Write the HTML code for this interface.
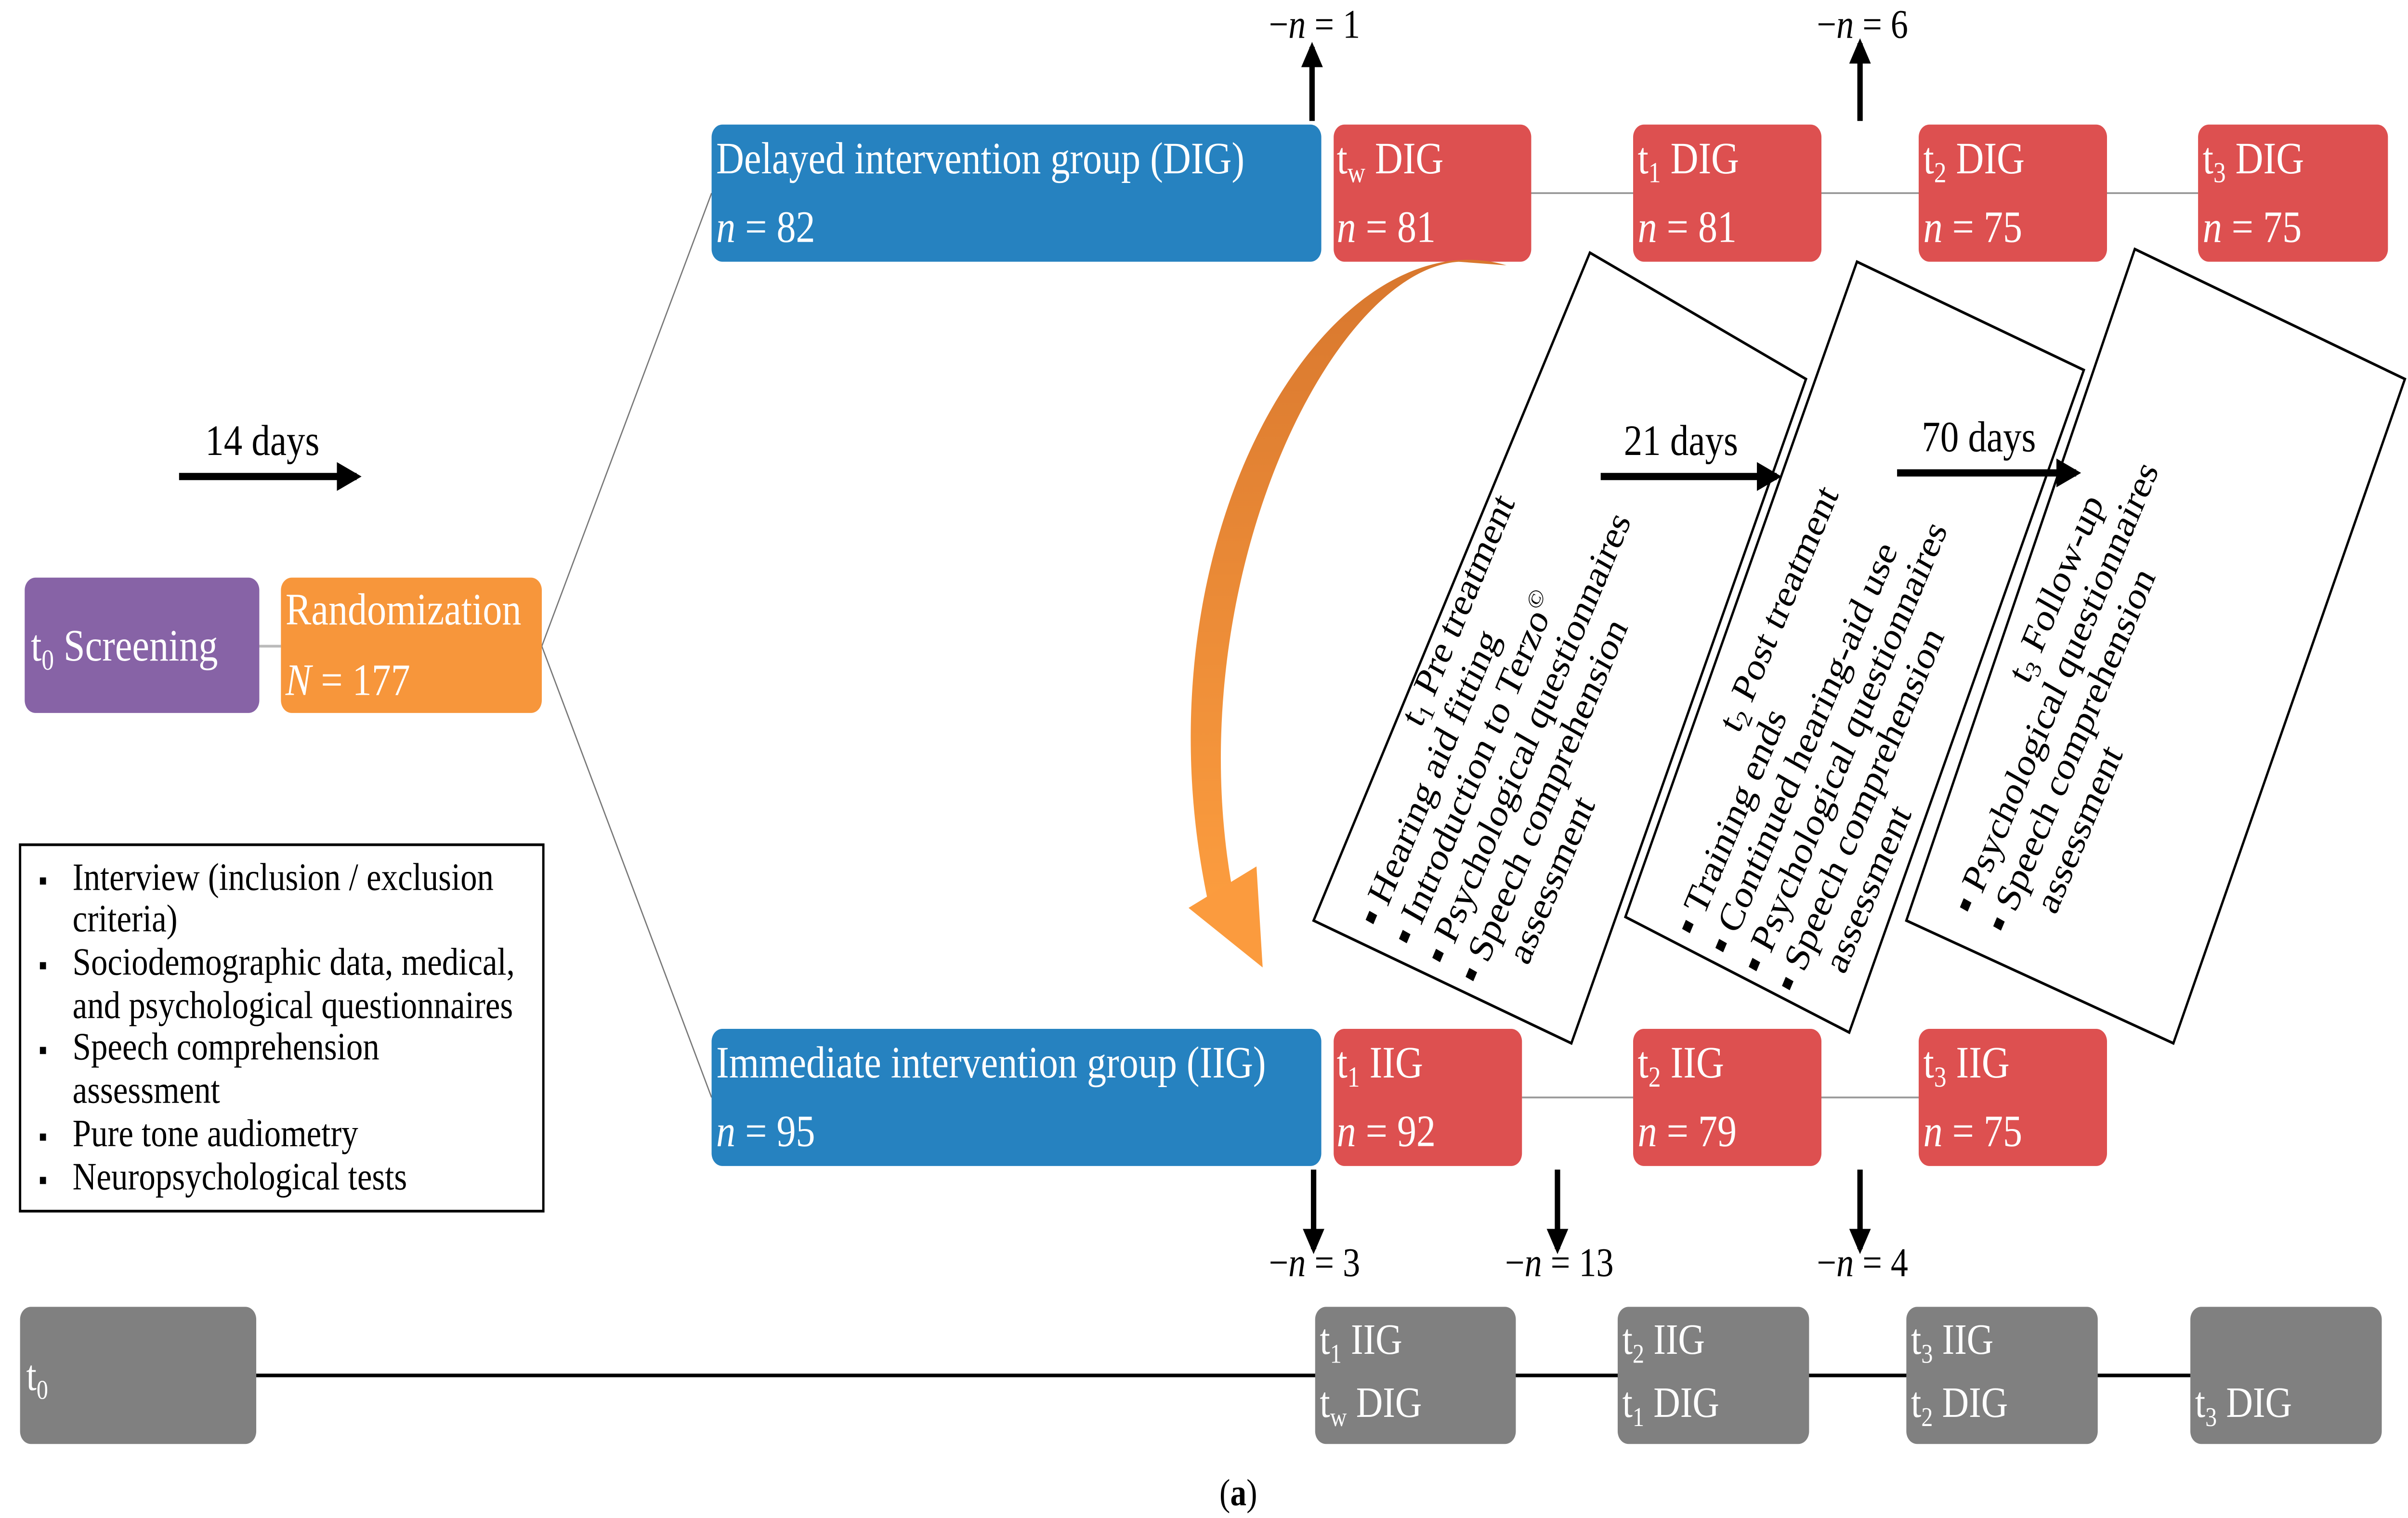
<!DOCTYPE html>
<html><head><meta charset="utf-8"><style>html,body{margin:0;padding:0;background:#fff;overflow:hidden;}svg{display:block;width:100vw;height:100vh;}</style></head>
<body>
<svg viewBox="0 0 1560 841" preserveAspectRatio="none" xmlns="http://www.w3.org/2000/svg" font-family="'Liberation Serif', serif">
<defs>
<linearGradient id="og" x1="0" y1="0" x2="0" y2="1">
<stop offset="0" stop-color="#d8772e"/><stop offset="1" stop-color="#fc9d3f"/>
</linearGradient>
<marker id="ah" viewBox="0 0 10 10" refX="8" refY="5" markerWidth="4" markerHeight="4" orient="auto"><path d="M0,0 L10,5 L0,10 z" fill="#000"/></marker>
</defs>

<line x1="168" y1="358" x2="182" y2="358" stroke="#bbb" stroke-width="1.5"/>
<line x1="351" y1="358" x2="461" y2="107" stroke="#777" stroke-width="0.8"/>
<line x1="351" y1="358" x2="461" y2="608" stroke="#777" stroke-width="0.8"/>
<line x1="992" y1="107" x2="1424" y2="107" stroke="#999" stroke-width="1"/>
<line x1="986" y1="608" x2="1243" y2="608" stroke="#999" stroke-width="1"/>
<line x1="166" y1="762" x2="1419" y2="762" stroke="#000" stroke-width="2"/>

<rect x="16" y="320" width="152" height="75" rx="7" fill="#8763a6"/>
<text x="20" y="366" font-size="25" fill="#fff">t<tspan font-size="16" dy="5">0</tspan><tspan dy="-5"> Screening</tspan></text>
<rect x="182" y="320" width="169" height="75" rx="7" fill="#f7963b"/>
<text x="185" y="346" font-size="25" fill="#fff">Randomization</text>
<text x="185" y="385" font-size="25" fill="#fff"><tspan font-style="italic">N</tspan> = 177</text>

<rect x="461" y="69" width="395" height="76" rx="7" fill="#2682c0"/>
<text x="464" y="96" font-size="25" fill="#fff">Delayed intervention group (DIG)</text>
<text x="464" y="134" font-size="25" fill="#fff"><tspan font-style="italic">n</tspan> = 82</text>
<g fill="#dd5050">
<rect x="864" y="69" width="128" height="76" rx="7"/>
<rect x="1058" y="69" width="122" height="76" rx="7"/>
<rect x="1243" y="69" width="122" height="76" rx="7"/>
<rect x="1424" y="69" width="123" height="76" rx="7"/>
</g>
<g font-size="25" fill="#fff">
<text x="866" y="96">t<tspan font-size="16" dy="5">w</tspan><tspan dy="-5"> DIG</tspan></text>
<text x="866" y="134"><tspan font-style="italic">n</tspan> = 81</text>
<text x="1061" y="96">t<tspan font-size="16" dy="5">1</tspan><tspan dy="-5"> DIG</tspan></text>
<text x="1061" y="134"><tspan font-style="italic">n</tspan> = 81</text>
<text x="1246" y="96">t<tspan font-size="16" dy="5">2</tspan><tspan dy="-5"> DIG</tspan></text>
<text x="1246" y="134"><tspan font-style="italic">n</tspan> = 75</text>
<text x="1427" y="96">t<tspan font-size="16" dy="5">3</tspan><tspan dy="-5"> DIG</tspan></text>
<text x="1427" y="134"><tspan font-style="italic">n</tspan> = 75</text>
</g>

<rect x="461" y="570" width="395" height="76" rx="7" fill="#2682c0"/>
<text x="464" y="597" font-size="25" fill="#fff">Immediate intervention group (IIG)</text>
<text x="464" y="635" font-size="25" fill="#fff"><tspan font-style="italic">n</tspan> = 95</text>
<g fill="#dd5050">
<rect x="864" y="570" width="122" height="76" rx="7"/>
<rect x="1058" y="570" width="122" height="76" rx="7"/>
<rect x="1243" y="570" width="122" height="76" rx="7"/>
</g>
<g font-size="25" fill="#fff">
<text x="866" y="597">t<tspan font-size="16" dy="5">1</tspan><tspan dy="-5"> IIG</tspan></text>
<text x="866" y="635"><tspan font-style="italic">n</tspan> = 92</text>
<text x="1061" y="597">t<tspan font-size="16" dy="5">2</tspan><tspan dy="-5"> IIG</tspan></text>
<text x="1061" y="635"><tspan font-style="italic">n</tspan> = 79</text>
<text x="1246" y="597">t<tspan font-size="16" dy="5">3</tspan><tspan dy="-5"> IIG</tspan></text>
<text x="1246" y="635"><tspan font-style="italic">n</tspan> = 75</text>
</g>

<g stroke="#000" stroke-width="3.5" marker-end="url(#ah)">
<line x1="850" y1="67" x2="850" y2="26"/>
<line x1="1205" y1="67" x2="1205" y2="24"/>
<line x1="851" y1="648" x2="851" y2="692"/>
<line x1="1009" y1="648" x2="1009" y2="692"/>
<line x1="1205" y1="648" x2="1205" y2="692"/>
</g>
<g font-size="22.5" fill="#000">
<text x="822" y="21">−<tspan font-style="italic">n</tspan> = 1</text>
<text x="1177" y="21">−<tspan font-style="italic">n</tspan> = 6</text>
<text x="822" y="707">−<tspan font-style="italic">n</tspan> = 3</text>
<text x="975" y="707">−<tspan font-style="italic">n</tspan> = 13</text>
<text x="1177" y="707">−<tspan font-style="italic">n</tspan> = 4</text>
</g>

<g stroke="#000" stroke-width="4" marker-end="url(#ah)">
<line x1="116" y1="264" x2="231" y2="264"/>
</g>
<text x="133" y="252" font-size="24" fill="#000">14 days</text>

<path d="M976,147 C860,118 730,300 784,505 L800,500 C760,330 860,150 945,145 Z" fill="url(#og)"/>
<polygon points="770,503 814,480 818,536" fill="#fb9b3e"/>

<g fill="#fff" stroke="#000" stroke-width="1.5">
<polygon points="1030,140 1170,210 1018,578 851,510"/>
<polygon points="1203,145 1350,205 1198,572 1053,508"/>
<polygon points="1383,138 1558,210 1408,578 1235,510"/>
</g>
<g stroke="#000" stroke-width="4" marker-end="url(#ah)">
<line x1="1037" y1="264" x2="1151" y2="264"/>
<line x1="1229" y1="262" x2="1345" y2="262"/>
</g>
<g font-size="24" fill="#000">
<text x="1052" y="252">21 days</text>
<text x="1245" y="250">70 days</text>
</g>

<g font-size="22.5" fill="#000">
<g transform="translate(893,515) rotate(-64)">
<text x="112" y="-24">t<tspan font-size="14" dy="4">1</tspan><tspan dy="-4"> Pre treatment</tspan></text>
<text x="0" y="0">▪ Hearing aid fitting</text>
<text x="0" y="24">▪ Introduction to Terzo<tspan font-size="14" dy="-8">©</tspan></text>
<text x="0" y="48">▪ Psychological questionnaires</text>
<text x="0" y="72">▪ Speech comprehension</text>
<text x="24" y="96">assessment</text>
</g>
<g transform="translate(1098,520) rotate(-64)">
<text x="114" y="-24">t<tspan font-size="14" dy="4">2</tspan><tspan dy="-4"> Post treatment</tspan></text>
<text x="0" y="0">▪ Training ends</text>
<text x="0" y="24">▪ Continued hearing-aid use</text>
<text x="0" y="48">▪ Psychological questionnaires</text>
<text x="0" y="72">▪ Speech comprehension</text>
<text x="24" y="96">assessment</text>
</g>
<g transform="translate(1278,508) rotate(-64)">
<text x="131" y="-24">t<tspan font-size="14" dy="4">3</tspan><tspan dy="-4"> Follow-up</tspan></text>
<text x="0" y="0">▪ Psychological questionnaires</text>
<text x="0" y="24">▪ Speech comprehension</text>
<text x="24" y="48">assessment</text>
</g>
</g>

<rect x="13" y="468" width="339" height="203" fill="#fff" stroke="#000" stroke-width="1.5"/>
<g font-size="21.5" fill="#000">
<text x="25" y="493" font-size="16">▪</text><text x="47" y="493">Interview (inclusion / exclusion</text>
<text x="47" y="516">criteria)</text>
<text x="25" y="540" font-size="16">▪</text><text x="47" y="540">Sociodemographic data, medical,</text>
<text x="47" y="564">and psychological questionnaires</text>
<text x="25" y="587" font-size="16">▪</text><text x="47" y="587">Speech comprehension</text>
<text x="47" y="611">assessment</text>
<text x="25" y="635" font-size="16">▪</text><text x="47" y="635">Pure tone audiometry</text>
<text x="25" y="659" font-size="16">▪</text><text x="47" y="659">Neuropsychological tests</text>
</g>

<g fill="#808080">
<rect x="13" y="724" width="153" height="76" rx="7"/>
<rect x="852" y="724" width="130" height="76" rx="7"/>
<rect x="1048" y="724" width="124" height="76" rx="7"/>
<rect x="1235" y="724" width="124" height="76" rx="7"/>
<rect x="1419" y="724" width="124" height="76" rx="7"/>
</g>
<g font-size="24" fill="#fff">
<text x="17" y="770">t<tspan font-size="15" dy="5">0</tspan></text>
<text x="855" y="750">t<tspan font-size="15" dy="5">1</tspan><tspan dy="-5"> IIG</tspan></text>
<text x="855" y="785">t<tspan font-size="15" dy="5">w</tspan><tspan dy="-5"> DIG</tspan></text>
<text x="1051" y="750">t<tspan font-size="15" dy="5">2</tspan><tspan dy="-5"> IIG</tspan></text>
<text x="1051" y="785">t<tspan font-size="15" dy="5">1</tspan><tspan dy="-5"> DIG</tspan></text>
<text x="1238" y="750">t<tspan font-size="15" dy="5">3</tspan><tspan dy="-5"> IIG</tspan></text>
<text x="1238" y="785">t<tspan font-size="15" dy="5">2</tspan><tspan dy="-5"> DIG</tspan></text>
<text x="1422" y="785">t<tspan font-size="15" dy="5">3</tspan><tspan dy="-5"> DIG</tspan></text>
</g>
<text x="790" y="834" font-size="21" fill="#000">(<tspan font-weight="bold">a</tspan>)</text>
</svg>
</body></html>
